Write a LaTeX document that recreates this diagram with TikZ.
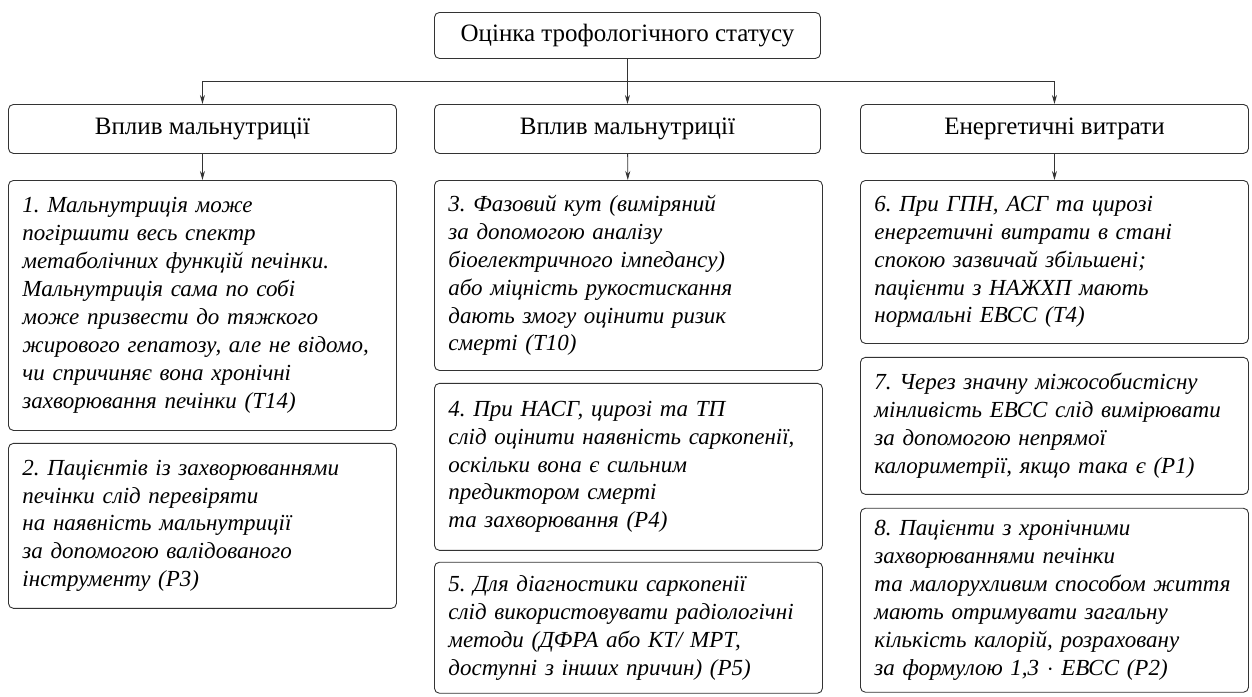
\documentclass[tikz,border=0pt]{standalone}
\usepackage{fontspec}
\setmainfont{LiberationSerif}[Extension=.ttf,UprightFont=*-Regular,ItalicFont=*-Italic,BoldFont=*-Bold,BoldItalicFont=*-BoldItalic]
\usetikzlibrary{arrows.meta,positioning}
\definecolor{Frame}{HTML}{333333}
\frenchspacing
\begin{document}
\begin{tikzpicture}[
  x=1pt,y=-1pt,
  node distance=12pt,
  every node/.style={font=\fontsize{25}{28}\selectfont},
  head/.style={draw=Frame,rounded corners=5pt,line width=0.9pt,minimum width=388pt,minimum height=49pt,inner sep=0pt,anchor=north west},
  item/.style={draw=Frame,rounded corners=5pt,line width=0.9pt,text width=360pt,inner xsep=14pt,inner ysep=0pt,align=left,font=\itshape\fontsize{23}{27.9}\selectfont},
  arr/.style={-{Stealth[length=9pt,width=5pt]},line width=0.8pt,color=Frame}
]
\useasboundingbox (0,0) rectangle (1252,696);
% top and column headers
\node[head,minimum width=386pt,minimum height=46pt] (status) at (434,12) {Оцінка трофологічного статусу};
\node[head] (malnA) at (8,104) {Вплив мальнутриції};
\node[head,minimum width=386pt] (malnB) at (434,104) {Вплив мальнутриції};
\node[head] (energy) at (860,104) {Енергетичні витрати};
% column 1
\node[item,minimum height=250pt,anchor=north west] (r1) at (8,180) {1. Мальнутриція може\\погіршити весь спектр\\метаболічних функцій печінки.\\Мальнутриція сама по собі\\може призвести до тяжкого\\жирового гепатозу, але не відомо,\\чи спричиняє вона хронічні\\захворювання печінки (Т14)};
\node[item,minimum height=165pt,below=of r1] (r2) {2. Пацієнтів із захворюваннями\\печінки слід перевіряти\\на наявність мальнутриції\\за допомогою валідованого\\інструменту (Р3)};
% column 2
\node[item,minimum height=190pt,anchor=north west] (r3) at (434,180) {3. Фазовий кут (виміряний\\за допомогою аналізу\\біоелектричного імпедансу)\\або міцність рукостискання\\дають змогу оцінити ризик\\смерті (Т10)};
\node[item,minimum height=167pt,below=of r3] (r4) {4. При НАСГ, цирозі та ТП\\слід оцінити наявність саркопенії,\\оскільки вона є сильним\\предиктором смерті\\та захворювання (Р4)};
\node[item,minimum height=131pt,below=11pt of r4] (r5) {5. Для діагностики саркопенії\\слід використовувати радіологічні\\методи (ДФРА або КТ/ МРТ,\\доступні з інших причин) (Р5)};
% column 3
\node[item,minimum height=163pt,anchor=north west] (r6) at (860,180) {6. При ГПН, АСГ та цирозі\\енергетичні витрати в стані\\спокою зазвичай збільшені;\\пацієнти з НАЖХП мають\\нормальні ЕВСС (Т4)};
\node[item,minimum height=137pt,below=13pt of r6] (r7) {7. Через значну міжособистісну\\мінливість ЕВСС слід вимірювати\\за допомогою непрямої\\калориметрії, якщо така є (Р1)};
\node[item,minimum height=184pt,below=13pt of r7] (r8) {8. Пацієнти з хронічними\\захворюваннями печінки\\та малорухливим способом життя\\мають отримувати загальну\\кількість калорій, розраховану\\за формулою 1,3 $\cdot$ ЕВСС (Р2)};
% connectors
\draw[arr] (status.south) -- ++(0,22) -| (malnA.north);
\draw[arr] (status.south) -- ++(0,22) -| (energy.north);
\draw[arr] (status) -- (malnB);
\draw[arr] (malnA) -- (r1);
\draw[arr] (malnB) -- (r3);
\draw[arr] (energy) -- (r6);
\end{tikzpicture}
\end{document}
